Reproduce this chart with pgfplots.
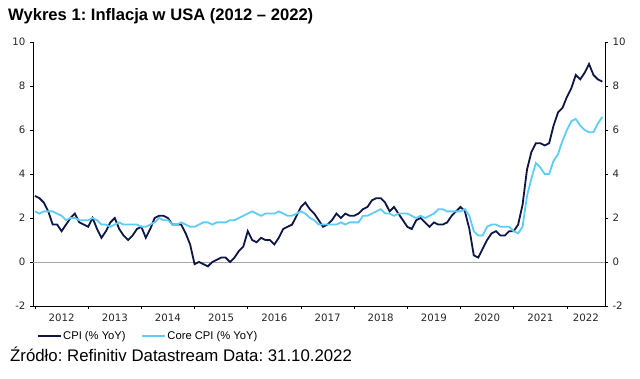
\documentclass[border=0pt]{standalone}
\usepackage{pgfplots}
\pgfplotsset{compat=1.18}
\usepackage{pgfplotstable}
\usepackage{fontspec}
\setmainfont{Liberation Sans}
\newfontfamily\dejavu{DejaVu Sans}
\frenchspacing
\definecolor{cpicol}{HTML}{0D1645}
\definecolor{corecol}{HTML}{5DCCF6}
\pgfplotstableread{
t cpi core
0 3.0 2.3
1 2.9 2.2
2 2.7 2.3
3 2.3 2.3
4 1.7 2.3
5 1.7 2.2
6 1.4 2.1
7 1.7 1.9
8 2.0 2.0
9 2.2 2.0
10 1.8 1.9
11 1.7 1.9
12 1.6 1.9
13 2.0 2.0
14 1.5 1.9
15 1.1 1.7
16 1.4 1.7
17 1.8 1.6
18 2.0 1.7
19 1.5 1.8
20 1.2 1.7
21 1.0 1.7
22 1.2 1.7
23 1.5 1.7
24 1.6 1.6
25 1.1 1.6
26 1.5 1.7
27 2.0 1.8
28 2.1 2.0
29 2.1 1.9
30 2.0 1.9
31 1.7 1.7
32 1.7 1.7
33 1.7 1.8
34 1.3 1.7
35 0.8 1.6
36 -0.1 1.6
37 0.0 1.7
38 -0.1 1.8
39 -0.2 1.8
40 0.0 1.7
41 0.1 1.8
42 0.2 1.8
43 0.2 1.8
44 0.0 1.9
45 0.2 1.9
46 0.5 2.0
47 0.7 2.1
48 1.4 2.2
49 1.0 2.3
50 0.9 2.2
51 1.1 2.1
52 1.0 2.2
53 1.0 2.2
54 0.8 2.2
55 1.1 2.3
56 1.5 2.2
57 1.6 2.1
58 1.7 2.1
59 2.1 2.2
60 2.5 2.3
61 2.7 2.2
62 2.4 2.0
63 2.2 1.9
64 1.9 1.7
65 1.6 1.7
66 1.7 1.7
67 1.9 1.7
68 2.2 1.7
69 2.0 1.8
70 2.2 1.7
71 2.1 1.8
72 2.1 1.8
73 2.2 1.8
74 2.4 2.1
75 2.5 2.1
76 2.8 2.2
77 2.9 2.3
78 2.9 2.4
79 2.7 2.2
80 2.3 2.2
81 2.5 2.1
82 2.2 2.2
83 1.9 2.2
84 1.6 2.2
85 1.5 2.1
86 1.9 2.0
87 2.0 2.1
88 1.8 2.0
89 1.6 2.1
90 1.8 2.2
91 1.7 2.4
92 1.7 2.4
93 1.8 2.3
94 2.1 2.3
95 2.3 2.3
96 2.5 2.3
97 2.3 2.4
98 1.5 2.1
99 0.3 1.4
100 0.2 1.2
101 0.6 1.2
102 1.0 1.6
103 1.3 1.7
104 1.4 1.7
105 1.2 1.6
106 1.2 1.6
107 1.4 1.6
108 1.4 1.4
109 1.7 1.3
110 2.6 1.6
111 4.2 3.0
112 5.0 3.8
113 5.4 4.5
114 5.4 4.3
115 5.3 4.0
116 5.4 4.0
117 6.2 4.6
118 6.8 4.9
119 7.0 5.5
120 7.5 6.0
121 7.9 6.4
122 8.5 6.5
123 8.3 6.2
124 8.6 6.0
125 9.0 5.9
126 8.5 5.9
127 8.3 6.3
128 8.2 6.6
}\datatable
\begin{document}
\begin{tikzpicture}[x=1pt,y=1pt]
\useasboundingbox (0,0) rectangle (640,379);
\pgfplotsset{
  common/.style={
    scale only axis, width=572pt, height=264pt,
    anchor=south west, at={(33pt,73pt)},
    xmin=-0.45, xmax=128.6, ymin=-2, ymax=10,
    ytick={-2,0,...,10},
    tick align=outside, major tick length=3pt,
    tick style={black, line width=0.6pt},
    axis line style={black, line width=0.9pt},
    /pgf/number format/assume math mode=true,
    ticklabel style={font=\dejavu\fontsize{10.2}{11}\selectfont, text=black!85},
  }
}
\begin{axis}[common,
  axis lines*=left,
  xtick={0,12,...,120}, xticklabels={},
  extra x ticks={6,18,30,42,54,66,78,90,102,114,124.3},
  extra x tick labels={2012,2013,2014,2015,2016,2017,2018,2019,2020,2021,2022},
  extra x tick style={major tick length=0pt, xticklabel style={yshift=-4pt}},
  yticklabel style={xshift=-1pt},
  legend columns=2,
  legend style={draw=none, fill=none, at={(axis description cs:0.0065,-0.1136)}, anchor=west,
    font=\fontsize{11.2}{12}\selectfont, inner sep=0pt,
    nodes={inner sep=1.5pt},
    /tikz/every even column/.append style={column sep=14pt}},
  legend image code/.code={\draw[#1] (0pt,0pt) -- (23pt,0pt);},
]
\addplot[gray!70, line width=0.7pt, forget plot] coordinates {(-0.45,0) (128.6,0)};
\addplot[cpicol, line width=1.8pt] table[x=t, y=cpi] {\datatable};
\addlegendentry{CPI (\% YoY)}
\addplot[corecol, line width=1.8pt] table[x=t, y=core] {\datatable};
\addlegendentry{Core CPI (\% YoY)}
\end{axis}
\begin{axis}[common,
  axis y line*=right, axis x line=none,
  yticklabel style={xshift=1pt},
]
\end{axis}
\node[anchor=base west, inner sep=0pt, font=\bfseries\fontsize{16.6}{18}\selectfont] at (8,358) {Wykres 1: Inflacja w USA (2012 – 2022)};
\node[anchor=base west, inner sep=0pt, font=\fontsize{16.8}{18}\selectfont] at (10,17) {Źródło: Refinitiv Datastream Data: 31.10.2022};
\end{tikzpicture}
\end{document}
